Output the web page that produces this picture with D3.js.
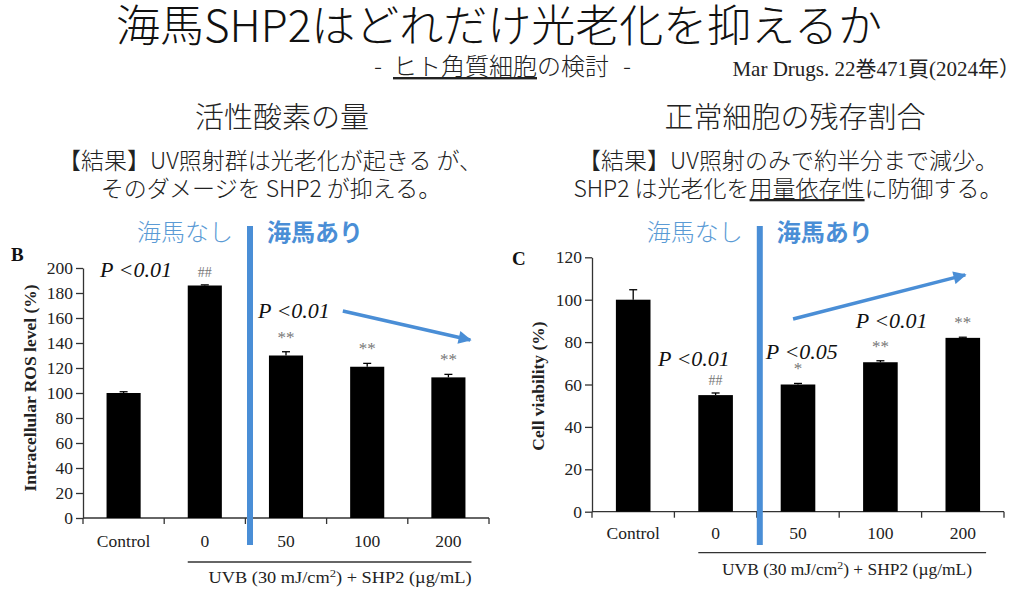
<!DOCTYPE html>
<html><head><meta charset="utf-8">
<script src="https://cdn.jsdelivr.net/npm/d3@7"></script>
<style>html,body{margin:0;padding:0;background:#fff}svg{display:block}</style>
</head><body>
<svg id="c" width="1024" height="594"></svg>
<script>
// ---- data ----
const categories = ["Control", "0", "50", "100", "200"];
const rosValues = [100, 186, 130, 121, 112.5];
const rosErrors = [1, 0.5, 3, 2.7, 2.4];
const rosMarks = ["", "##", "**", "**", "**"];
const rosTicks = [0, 20, 40, 60, 80, 100, 120, 140, 160, 180, 200];
const viabilityValues = [100, 55, 60, 70.5, 82];
const viabilityErrors = [4.7, 1, 0.5, 0.7, 0.3];
const viabilityMarks = ["", "##", "*", "**", "**"];
const viabilityTicks = [0, 20, 40, 60, 80, 100, 120];

const BLUE = "#4a8ed6";
const SERIF = "'Liberation Serif','Times New Roman',serif";
const JP = "'Noto Sans CJK JP','Noto Sans',sans-serif";
const svg = d3.select("#c");

svg.append("defs").append("marker").attr("id", "ah")
  .attr("viewBox", "0 0 10 10").attr("refX", 9).attr("refY", 5)
  .attr("markerWidth", 15).attr("markerHeight", 13).attr("markerUnits", "userSpaceOnUse")
  .attr("orient", "auto")
  .append("path").attr("d", "M0,0L10,5L0,10Z").attr("fill", BLUE);

// ---- header text ----
svg.append("text").attr("x", 499).attr("y", 42).attr("text-anchor", "middle")
  .attr("font-family", JP).attr("font-weight", 300).attr("font-size", 44).attr("fill", "#111")
  .text("海馬SHP2はどれだけ光老化を抑えるか");
const sub = svg.append("text").attr("y", 75)
  .attr("font-family", JP).attr("font-weight", 300).attr("font-size", 24).attr("fill", "#222");
sub.append("tspan").attr("x", 374).text("-");
sub.append("tspan").attr("x", 393).attr("text-decoration", "underline").text("ヒト角質細胞");
sub.append("tspan").text("の検討");
sub.append("tspan").attr("x", 623).text("-");
svg.append("text").attr("x", 1020).attr("y", 76).attr("text-anchor", "end")
  .attr("font-family", SERIF + ",'Noto Sans CJK JP'").attr("font-size", 21).attr("fill", "#222")
  .text("Mar Drugs. 22巻471頁(2024年）");

function jp(x, y, size, txt, opts = {}) {
  return svg.append("text").attr("x", x).attr("y", y).attr("text-anchor", opts.anchor || "middle")
    .attr("font-family", JP).attr("font-weight", opts.weight || 300).attr("font-size", size)
    .attr("fill", opts.fill || "#222").text(txt);
}
jp(282, 128, 29, "活性酸素の量");
jp(795, 128, 29, "正常細胞の残存割合");
jp(270, 169, 23, "【結果】UV照射群は光老化が起きる が、");
jp(271, 197, 23, "そのダメージを SHP2 が抑える。");
jp(788, 169, 23, "【結果】UV照射のみで約半分まで減少。");
const r2 = svg.append("text").attr("x", 788).attr("y", 197).attr("text-anchor", "middle")
  .attr("font-family", JP).attr("font-weight", 300).attr("font-size", 23).attr("fill", "#222");
r2.append("tspan").text("SHP2 は光老化を");
r2.append("tspan").attr("text-decoration", "underline").text("用量依存性");
r2.append("tspan").text("に防御する。");

// ---- panel ----
function panel(o) {
  const g = svg.append("g");
  const x = d3.scaleBand().domain(categories).range(o.xr);
  const y = d3.scaleLinear().domain([0, d3.max(o.ticks)]).range(o.yr);
  const bw = x.bandwidth() * 0.42;
  const cx = c => x(c) + x.bandwidth() / 2;
  const y0 = y(0);

  const ya = g.append("g").attr("transform", `translate(${o.xr[0]},0)`)
    .call(d3.axisLeft(y).tickValues(o.ticks).tickSize(7).tickSizeOuter(0).tickPadding(3));
  ya.selectAll("text").attr("font-family", SERIF).attr("font-size", 17.5).attr("fill", "#222");
  ya.selectAll("line,path").attr("stroke", "#333").attr("stroke-width", 1.3);

  g.append("line").attr("x1", o.xr[0]).attr("x2", o.xr[1]).attr("y1", y0).attr("y2", y0)
    .attr("stroke", "#333").attr("stroke-width", 1.3);
  const bounds = categories.map(c => x(c)).concat([o.xr[1]]);
  g.selectAll(".bt").data(bounds).join("line").attr("class", "bt")
    .attr("x1", d => d).attr("x2", d => d).attr("y1", y0).attr("y2", y0 + 6)
    .attr("stroke", "#333").attr("stroke-width", 1.3);

  const data = categories.map((c, i) => ({ c, v: o.values[i], e: o.errors[i], m: o.marks[i] }));
  g.selectAll(".bar").data(data).join("rect").attr("class", "bar")
    .attr("x", d => cx(d.c) - bw / 2).attr("y", d => y(d.v))
    .attr("width", bw).attr("height", d => y0 - y(d.v)).attr("fill", "#000");
  g.selectAll(".ev").data(data).join("line").attr("class", "ev")
    .attr("x1", d => cx(d.c)).attr("x2", d => cx(d.c)).attr("y1", d => y(d.v)).attr("y2", d => y(d.v + d.e))
    .attr("stroke", "#000").attr("stroke-width", 1.3);
  g.selectAll(".ec").data(data).join("line").attr("class", "ec")
    .attr("x1", d => cx(d.c) - 4).attr("x2", d => cx(d.c) + 4).attr("y1", d => y(d.v + d.e)).attr("y2", d => y(d.v + d.e))
    .attr("stroke", "#000").attr("stroke-width", 1.3);
  g.selectAll(".mk").data(data).join("text").attr("class", "mk")
    .attr("x", d => cx(d.c)).attr("y", d => y(d.v + d.e) - (d.m === "##" ? 8 : 9))
    .attr("text-anchor", "middle").attr("font-family", SERIF)
    .attr("font-size", d => d.m === "##" ? 14 : 17).attr("fill", "#777").text(d => d.m);

  g.selectAll(".cl").data(categories).join("text").attr("class", "cl")
    .attr("x", d => cx(d)).attr("y", y0 + o.catDy).attr("text-anchor", "middle")
    .attr("font-family", SERIF).attr("font-size", 17.5).attr("fill", "#222").text(d => d);

  g.append("text").attr("transform", `translate(${o.ylx},${o.yly}) rotate(-90)`)
    .attr("text-anchor", "middle").attr("dominant-baseline", "central")
    .attr("font-family", SERIF).attr("font-weight", "bold").attr("font-size", 17.5).attr("fill", "#222")
    .text(o.ylabel);
  g.append("text").attr("x", o.letter[0]).attr("y", o.letter[1])
    .attr("font-family", SERIF).attr("font-weight", "bold").attr("font-size", 19).attr("fill", "#111").text(o.letterText);

  // caption under UVB groups
  const lx1 = cx("0") - bw / 2, lx2 = cx("200") + bw / 2 + 6;
  g.append("line").attr("x1", lx1).attr("x2", lx2).attr("y1", y0 + o.capLineDy).attr("y2", y0 + o.capLineDy)
    .attr("stroke", "#333").attr("stroke-width", 1.3);
  const cap = g.append("text").attr("x", o.capX).attr("y", y0 + o.capDy).attr("text-anchor", "middle")
    .attr("font-family", SERIF).attr("font-size", 16).attr("fill", "#222")
    .attr("textLength", o.capLen).attr("lengthAdjust", "spacingAndGlyphs");
  cap.append("tspan").text("UVB (30 mJ/cm");
  cap.append("tspan").attr("font-size", 11).attr("dy", -6).text("2");
  cap.append("tspan").attr("dy", 6).text(") + SHP2 (µg/mL)");

  // divider
  const dx = x("50") + o.divOff;
  g.append("line").attr("x1", dx).attr("x2", dx).attr("y1", 226).attr("y2", 545)
    .attr("stroke", BLUE).attr("stroke-width", 6);
  svg.append("text").attr("x", dx - 17).attr("y", 241).attr("text-anchor", "end")
    .attr("font-family", JP).attr("font-weight", 300).attr("font-size", 24).attr("fill", "#5b9bd5").text("海馬なし");
  svg.append("text").attr("x", dx + 17).attr("y", 241).attr("text-anchor", "start")
    .attr("font-family", JP).attr("font-weight", 700).attr("font-size", 24).attr("fill", "#4a8ed6").text("海馬あり");

  // p-value annotations
  o.pvals.forEach(p => {
    g.append("text").attr("x", x(p.c) + p.f * x.bandwidth()).attr("y", y(p.v))
      .attr("font-family", SERIF).attr("font-style", "italic").attr("font-size", 22).attr("fill", "#111")
      .text(p.t);
  });
  const a = o.arrow;
  g.append("line")
    .attr("x1", x(a[0]) + a[1] * x.bandwidth()).attr("y1", y(a[2]))
    .attr("x2", x(a[3]) + a[4] * x.bandwidth()).attr("y2", y(a[5]))
    .attr("stroke", BLUE).attr("stroke-width", 3.5).attr("marker-end", "url(#ah)");
}

panel({
  xr: [83, 489], yr: [518, 268], ticks: rosTicks,
  values: rosValues, errors: rosErrors, marks: rosMarks,
  catDy: 29, ylx: 30, yly: 388, ylabel: "Intracellular ROS level (%)",
  letter: [11, 261], letterText: "B", capLineDy: 44, capDy: 65, capX: 340, capLen: 263, divOff: 4.6,
  pvals: [{ c: "Control", f: 0.21, v: 192.8, t: "P <0.01" }, { c: "50", f: 0.155, v: 160, t: "P <0.01" }],
  arrow: ["100", 0.2, 165.6, "200", 0.77, 142.4]
});
panel({
  xr: [592, 1004], yr: [511.7, 257.3], ticks: viabilityTicks,
  values: viabilityValues, errors: viabilityErrors, marks: viabilityMarks,
  catDy: 27, ylx: 538, yly: 386, ylabel: "Cell viability (%)",
  letter: [512, 265], letterText: "C", capLineDy: 41, capDy: 63, capX: 847, capLen: 250, divOff: 3,
  pvals: [{ c: "Control", f: 0.8, v: 68.7, t: "P <0.01" }, { c: "50", f: 0.11, v: 72, t: "P <0.05" },
          { c: "100", f: 0.2, v: 86.7, t: "P <0.01" }],
  arrow: ["50", 0.44, 90.9, "200", 0.53, 111.7]
});
</script>
</body></html>
